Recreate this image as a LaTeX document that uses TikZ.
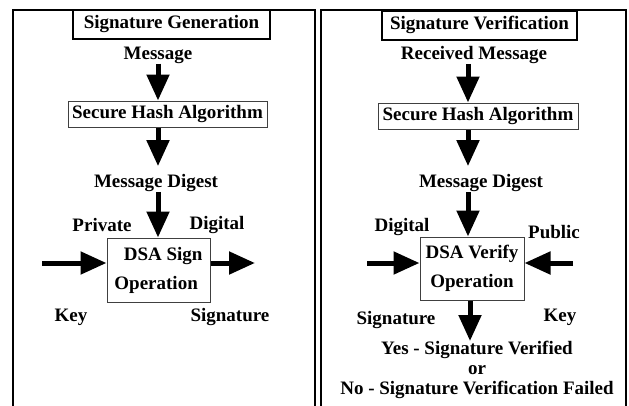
\documentclass[tikz,border=0pt]{standalone}
\usepackage{fontspec}
\setmainfont{Liberation Serif}
\usetikzlibrary{arrows.meta}

\tikzset{
  lbl/.style={inner sep=0pt, font=\fontsize{19}{22}\selectfont\bfseries},
  titlebox/.style={lbl, draw, line width=2pt, minimum height=29pt},
  procbox/.style={lbl, draw=black!75, line width=1pt},
  bigarrow/.style={line width=5pt, -{Triangle[width=22pt,length=26pt]}},
  frame/.style={line width=2pt}
}

\begin{document}
\begin{tikzpicture}[x=1pt,y=-1pt]
        \useasboundingbox (0,0) rectangle (629,405);

        % the two panels
        \draw[frame] (13,406) -- (13,10) -- (315,10) -- (315,406);
        \draw[frame] (321,406) -- (321,10) -- (626,10) -- (626,406);

        % signature generation
        \node[titlebox, minimum width=197pt] (gentitle) at (171.5,24.5) {Signature Generation};
        \node[lbl] (genmsg) at (158,55) {Message};
        \node[procbox, minimum width=199pt, minimum height=26pt] (genhash) at (167.5,114) {Secure Hash Algorithm};
        \node[lbl] (gendigest) at (156,183) {Message Digest};
        \node[procbox, minimum width=103pt, minimum height=64pt, align=center] (sign) at (158.5,270) {\ \ DSA Sign\\[7pt]Operation\ \ };
        \node[lbl] (private) at (102,225) {Private};
        \node[lbl] (gendigital) at (217,225) {Digital};
        \node[lbl] (privkey) at (71,317) {Key};
        \node[lbl] (gensig) at (230,317) {Signature};
        \coordinate (keyin) at (42,263);
        \coordinate (sigout) at (255,263);

        \draw[bigarrow] (genmsg.south) -- (genmsg.south |- genhash.north);
        \draw[bigarrow, shorten >=8pt] (genhash.south -| genmsg) -- (genmsg |- gendigest.north);
        \draw[bigarrow] (gendigest.south -| genmsg) -- (genmsg |- sign.north);
        \draw[bigarrow] (keyin) -- (keyin -| sign.west);
        \draw[bigarrow] (keyin -| sign.east) -- (sigout);

        % signature verification
        \node[titlebox, minimum width=195pt] (vertitle) at (479.5,25) {Signature Verification};
        \node[lbl] (vermsg) at (474,55) {Received Message};
        \node[procbox, minimum width=200pt, minimum height=26pt] (verhash) at (478,116) {Secure Hash Algorithm};
        \node[lbl] (verdigest) at (481,183) {Message Digest};
        \node[procbox, minimum width=104pt, minimum height=63pt, align=center] (verify) at (472,268.5) {DSA Verify\\[7pt]Operation};
        \node[lbl] (verdigital) at (402,227) {Digital};
        \node[lbl] (public) at (554,232) {Public};
        \node[lbl] (versig) at (396,320) {Signature};
        \node[lbl] (pubkey) at (560,317) {Key};
        \node[lbl] (yes) at (477,350) {Yes - Signature Verified};
        \node[lbl] (or) at (477,370) {or};
        \node[lbl] (no) at (477,390) {No - Signature Verification Failed};
        \coordinate (sigin) at (367,263);
        \coordinate (pubin) at (573,263);
        \coordinate (vx) at (468,0);

        \draw[bigarrow] (vermsg.south -| vx) -- (vx |- verhash.north);
        \draw[bigarrow, shorten >=8pt] (verhash.south -| vx) -- (vx |- verdigest.north);
        \draw[bigarrow] (verdigest.south -| vx) -- (vx |- verify.north);
        \draw[bigarrow] (sigin) -- (sigin -| verify.west);
        \draw[bigarrow] (pubin) -- (pubin -| verify.east);
        \draw[bigarrow] (verify.south -| 470,0) -- (yes.north -| 470,0);

    \end{tikzpicture}
\end{document}
